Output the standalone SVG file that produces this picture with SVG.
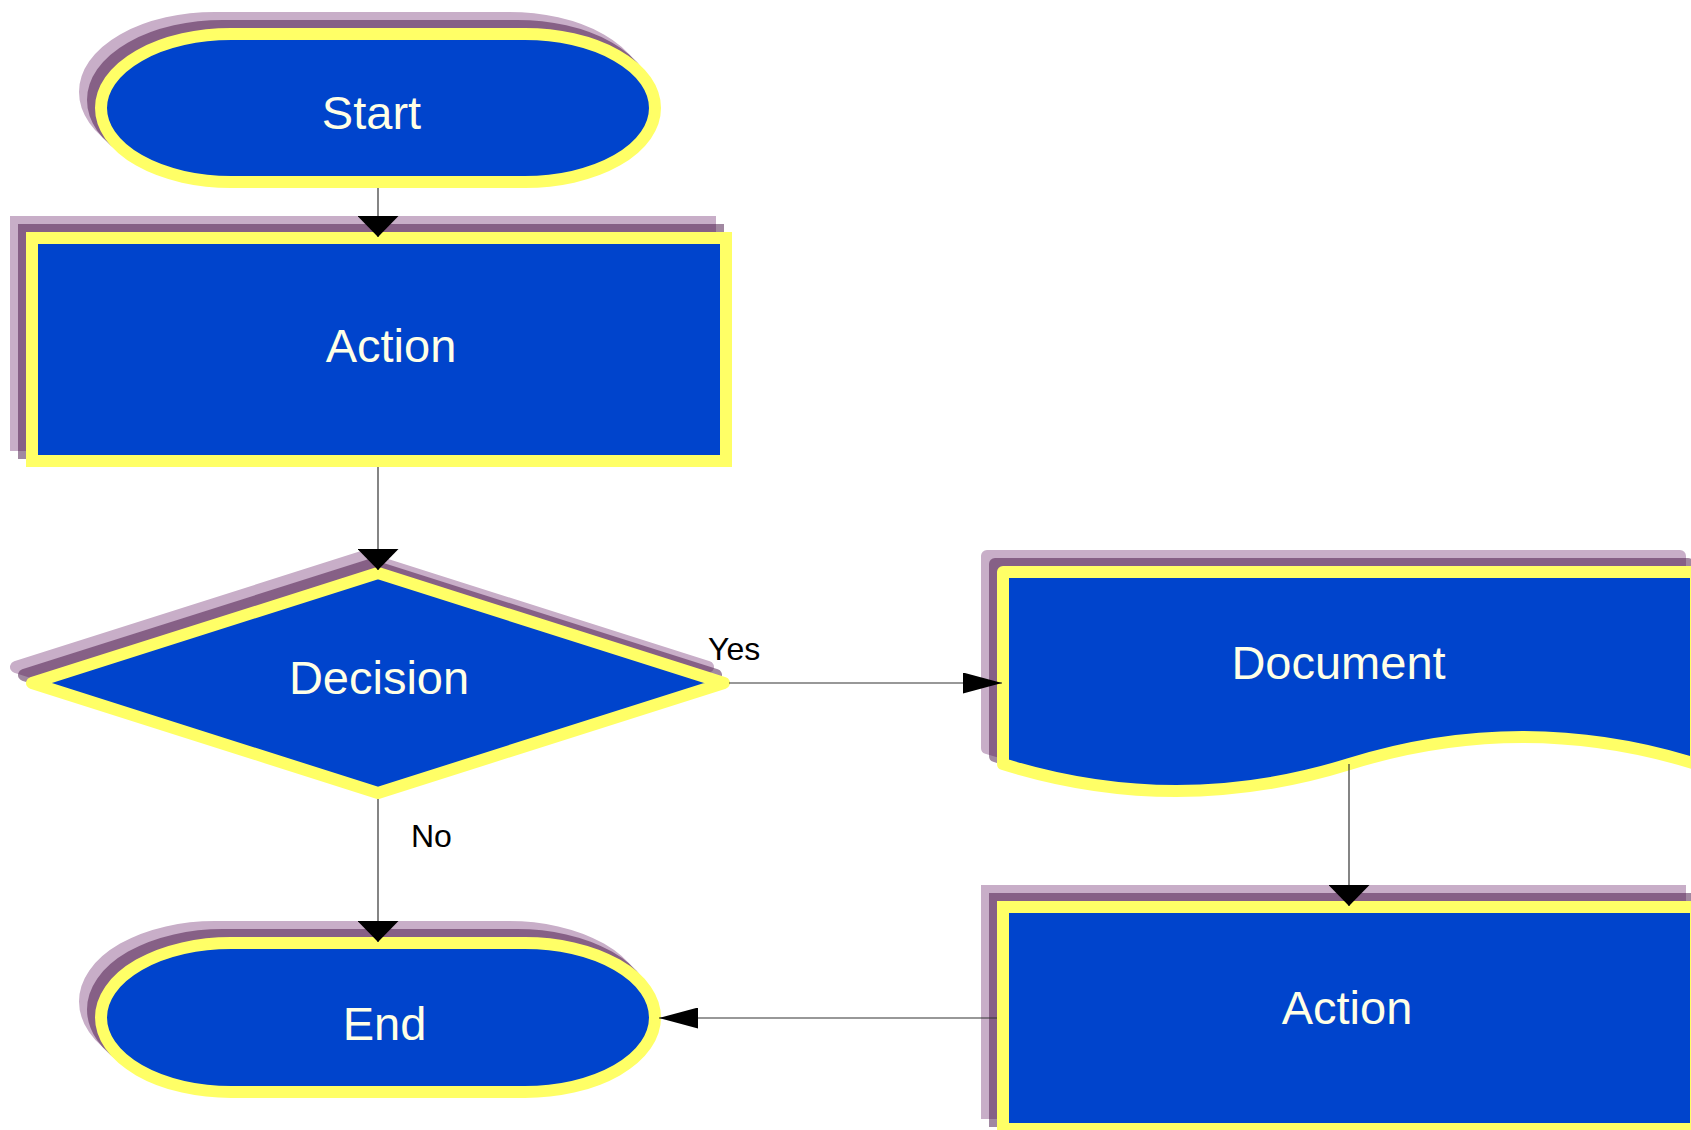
<svg xmlns="http://www.w3.org/2000/svg" xmlns:xlink="http://www.w3.org/1999/xlink" width="1691" height="1130" viewBox="0 0 1691 1130">
<style>
.shape{fill:#0044cc;stroke:#ffff66;stroke-width:12}
.sh1{fill:#c8aec8;stroke:#c8aec8;stroke-width:12}
.sh2{fill:#461446;stroke:#461446;stroke-width:12;opacity:0.5}
.rnd{stroke-linejoin:round}
.lbl{font-family:"Liberation Sans",Arial,sans-serif;font-size:47px;fill:#ffffe6;text-anchor:middle}
.elbl{font-family:"Liberation Sans",Arial,sans-serif;font-size:32px;fill:#000}
.conn{stroke:#333;stroke-width:1.2;fill:none}
</style>
<defs>
<rect id="startShape" x="101" y="34" width="554" height="148" rx="130" ry="74"/>
<rect id="action1Shape" x="32" y="238" width="694" height="223"/>
<polygon id="decisionShape" points="378,573 724,683 378,793 32,683"/>
<path id="docShape" d="M1003,572 H1696 V764 Q1522.75,710 1349.5,764 T1003,764 Z"/>
<rect id="endShape" x="101" y="943" width="554" height="149" rx="130" ry="74.5"/>
<rect id="action2Shape" x="1003" y="907" width="693" height="222"/>
<marker id="arrV" markerUnits="userSpaceOnUse" markerWidth="21" markerHeight="41" refX="21" refY="20.5" orient="auto" viewBox="0 0 21 41">
<path d="M0,0 L21,20.5 L0,41 Z" fill="#000"/>
</marker>
<marker id="arrH" markerUnits="userSpaceOnUse" markerWidth="39" markerHeight="21" refX="39" refY="10.5" orient="auto" viewBox="0 0 39 21">
<path d="M0,0 L39,10.5 L0,21 Z" fill="#000"/>
</marker>
</defs>

<g id="node-start">
<use xlink:href="#startShape" href="#startShape" class="sh1" transform="translate(-16,-16)"/>
<use xlink:href="#startShape" href="#startShape" class="sh2" transform="translate(-8,-8)"/>
<use xlink:href="#startShape" href="#startShape" class="shape"/>
<text class="lbl" x="371.5" y="129">Start</text>
</g>

<g id="node-action1">
<use xlink:href="#action1Shape" href="#action1Shape" class="sh1" transform="translate(-16,-16)"/>
<use xlink:href="#action1Shape" href="#action1Shape" class="sh2" transform="translate(-8,-8)"/>
<use xlink:href="#action1Shape" href="#action1Shape" class="shape"/>
<text class="lbl" x="391" y="362">Action</text>
</g>

<g id="node-decision">
<use xlink:href="#decisionShape" href="#decisionShape" class="sh1 rnd" transform="translate(-16,-16)"/>
<use xlink:href="#decisionShape" href="#decisionShape" class="sh2 rnd" transform="translate(-8,-8)"/>
<use xlink:href="#decisionShape" href="#decisionShape" class="shape rnd"/>
<text class="lbl" x="379" y="694">Decision</text>
</g>

<g id="node-document">
<use xlink:href="#docShape" href="#docShape" class="sh1 rnd" transform="translate(-16,-16)"/>
<use xlink:href="#docShape" href="#docShape" class="sh2 rnd" transform="translate(-8,-8)"/>
<use xlink:href="#docShape" href="#docShape" class="shape rnd"/>
<text class="lbl" x="1338.5" y="679">Document</text>
</g>

<g id="node-end">
<use xlink:href="#endShape" href="#endShape" class="sh1" transform="translate(-16,-16)"/>
<use xlink:href="#endShape" href="#endShape" class="sh2" transform="translate(-8,-8)"/>
<use xlink:href="#endShape" href="#endShape" class="shape"/>
<text class="lbl" x="384.5" y="1040">End</text>
</g>

<g id="node-action2">
<use xlink:href="#action2Shape" href="#action2Shape" class="sh1" transform="translate(-16,-16)"/>
<use xlink:href="#action2Shape" href="#action2Shape" class="sh2" transform="translate(-8,-8)"/>
<use xlink:href="#action2Shape" href="#action2Shape" class="shape"/>
<text class="lbl" x="1347" y="1024">Action</text>
</g>

<g id="connectors">
<line class="conn" x1="378" y1="188" x2="378" y2="237" marker-end="url(#arrV)"/>
<line class="conn" x1="378" y1="467" x2="378" y2="570" marker-end="url(#arrV)"/>
<line class="conn" x1="378" y1="799" x2="378" y2="942" marker-end="url(#arrV)"/>
<line class="conn" x1="729" y1="683" x2="1002" y2="683" marker-end="url(#arrH)"/>
<line class="conn" x1="1349" y1="764" x2="1349" y2="906" marker-end="url(#arrV)"/>
<line class="conn" x1="997" y1="1018" x2="659" y2="1018" marker-end="url(#arrH)"/>
<text class="elbl" x="708" y="660">Yes</text>
<text class="elbl" x="411" y="847">No</text>
</g>
</svg>
